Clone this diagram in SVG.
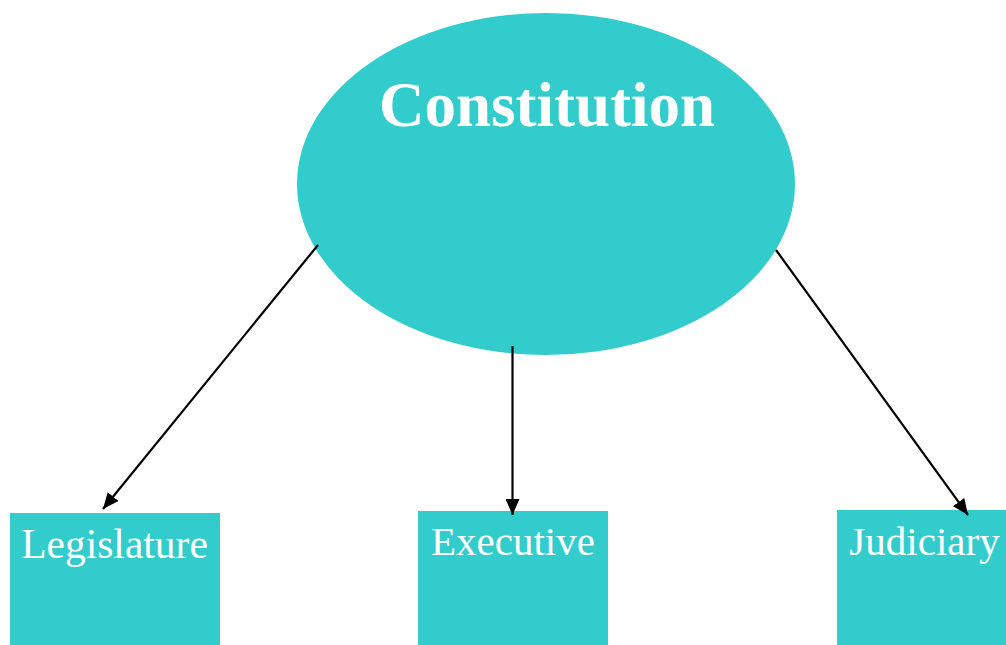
<svg xmlns="http://www.w3.org/2000/svg" width="1006" height="645" viewBox="0 0 1006 645">
<style>
.shape{fill:#33CCCC}
.lbl{font-family:"Liberation Serif","Times New Roman",serif;fill:#ffffff;text-anchor:middle}
.edge{stroke:#000;stroke-width:2.2;fill:none;marker-end:url(#ah)}
</style>
<defs>
<marker id="ah" viewBox="0 0 16 14" refX="16" refY="7" markerWidth="16" markerHeight="14" orient="auto" markerUnits="userSpaceOnUse">
<path d="M0,0 L16,7 L0,14 z" fill="#000"/>
</marker>
</defs>
<rect width="1006" height="645" fill="#ffffff"/>
<g id="constitution">
<ellipse class="shape" cx="546" cy="184" rx="249" ry="171"/>
<text class="lbl" x="547" y="126" font-size="63" font-weight="bold">Constitution</text>
</g>
<g id="legislature">
<rect class="shape" x="10" y="513" width="210" height="132"/>
<text class="lbl" x="114.5" y="558" font-size="41.5">Legislature</text>
</g>
<g id="executive">
<rect class="shape" x="418" y="511" width="190" height="134"/>
<text class="lbl" x="513" y="555" font-size="41">Executive</text>
</g>
<g id="judiciary">
<rect class="shape" x="837" y="510" width="169" height="135"/>
<text class="lbl" x="924.5" y="555" font-size="41">Judiciary</text>
</g>
<g id="connectors">
<line class="edge" x1="318" y1="245" x2="103" y2="509"/>
<line class="edge" x1="512.5" y1="346" x2="512.5" y2="515"/>
<line class="edge" x1="776" y1="250" x2="968" y2="515"/>
</g>
</svg>
